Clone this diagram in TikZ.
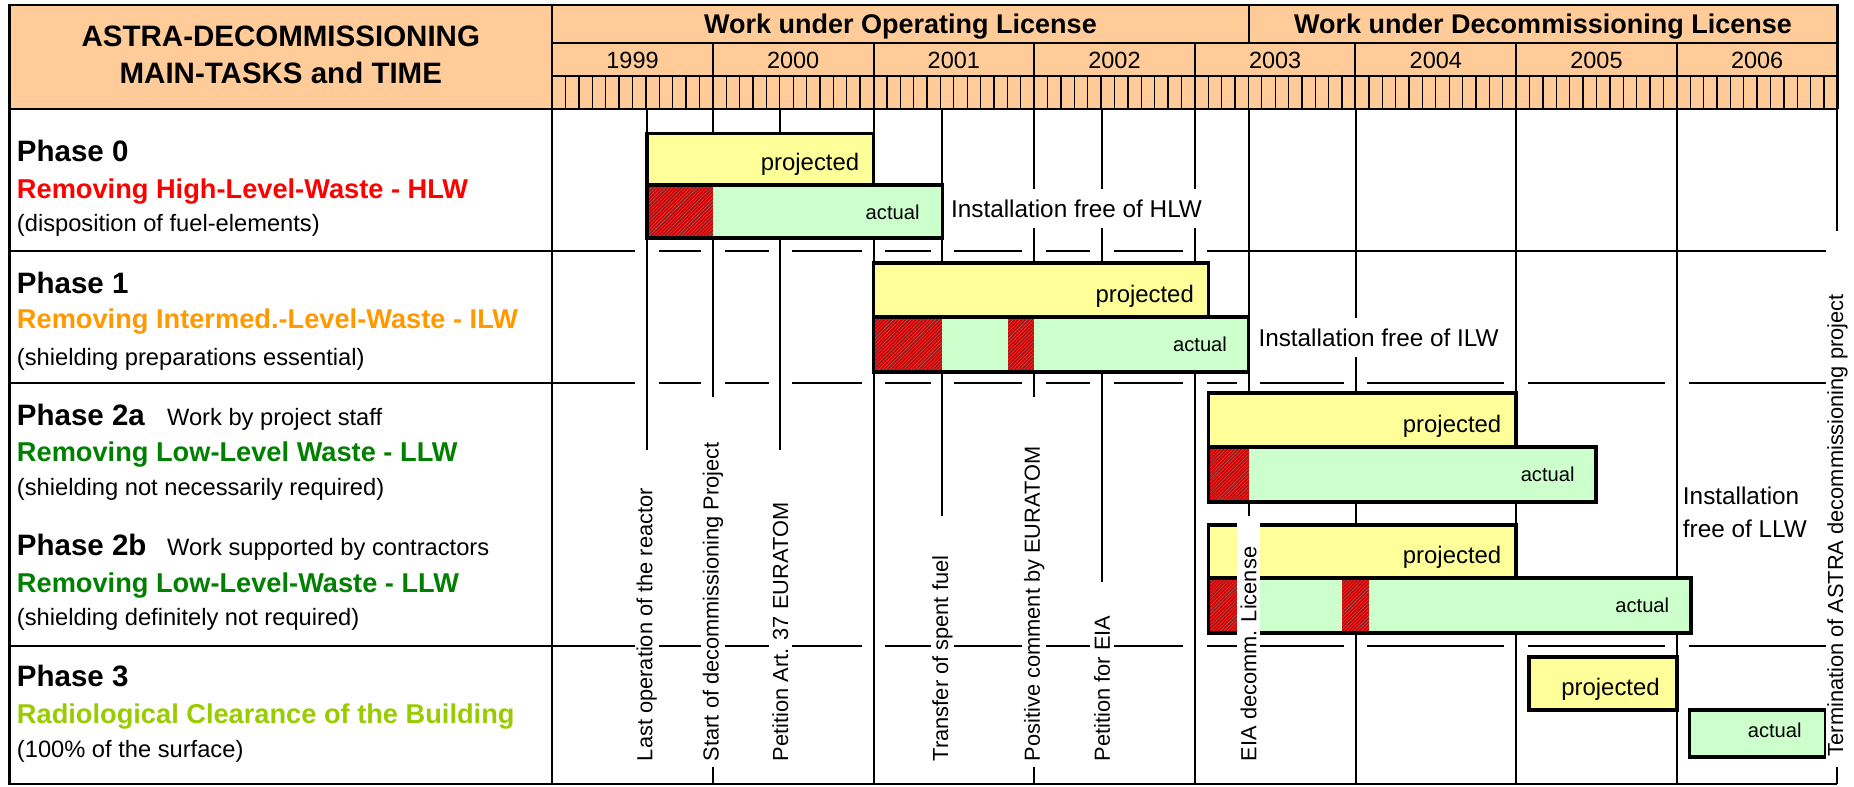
\documentclass[tikz,border=0pt]{standalone}
\usepackage{fontspec}
\setmainfont{Liberation Sans}
\usetikzlibrary{patterns.meta}
\definecolor{peach}{HTML}{FFCC99}
\definecolor{projyellow}{HTML}{FFFF99}
\definecolor{actgreen}{HTML}{CCFFCC}
\definecolor{delayred}{HTML}{E00000}
\definecolor{hlwred}{HTML}{FF0000}
\definecolor{ilworange}{HTML}{FF9900}
\definecolor{llwgreen}{HTML}{008000}
\definecolor{clrgreen}{HTML}{99CC00}
\def\fsz#1{\fontsize{#1pt}{#1pt}\selectfont}

\tikzset{
  frame/.style={line width=0.4mm},
  grid/.style={line width=0.34mm},
  gridcut/.style={grid, preaction={draw=white, line width=4mm}},
  tick/.style={line width=0.22mm},
  projbar/.style={draw, line width=0.6mm, fill=projyellow},
  actbar/.style={draw, line width=0.6mm, fill=actgreen},
  delay/.style={fill=delayred, postaction={pattern={Lines[angle=45,distance=1.2pt,line width=0.2pt]}, pattern color=black!55}},
  projlbl/.style={anchor=base east, inner sep=0pt, font=\fsz{11.5}},
  actlbl/.style={anchor=base east, inner sep=0pt, font=\fsz{9.7}},
  evtxt/.style={rotate=90, anchor=west, inner sep=0pt, font=\fsz{10.5}},
  mask/.style={fill=white},
  freelbl/.style={anchor=base west, fill=white, inner xsep=0.4mm, inner ysep=1.8mm, font=\fsz{11.7}},
  title/.style={anchor=base, inner sep=0pt, font=\fsz{14.2}\bfseries},
  hdr/.style={anchor=base, inner sep=0pt, font=\fsz{13}\bfseries},
  yearlbl/.style={anchor=base, inner sep=0pt, font=\fsz{11.3}},
  phase/.style={anchor=base west, inner sep=0pt, font=\fsz{14.2}\bfseries},
  task/.style={anchor=base west, inner sep=0pt, font=\fsz{13.1}\bfseries},
  note/.style={anchor=base west, inner sep=0pt, font=\fsz{11.4}}
}

\begin{document}
\begin{tikzpicture}[x=0.2mm, y=-0.2mm]
	%%%%% START %%%%%
	\useasboundingbox (0,0) rectangle (1568,665);
	
	% header
	\fill[peach] (8,4) rectangle (1554,92);
	\draw[tick] \foreach \m in {1,...,95} {({467+\m*135.875/12},64) -- ++(0,28)};
	\foreach \k in {1,...,7} \draw[grid] ({467+\k*135.875},36) -- ++(0,56);
	\draw[grid] (467,36) -- (1554,36);
	\draw[grid] (467,64) -- (1554,64);
	\draw[grid] (1056,4) -- (1056,36);
	\foreach \yr [count=\k from 0] in {1999,...,2006}
		\node[yearlbl] (y\yr) at ({467+(\k+0.5)*135.875},58) {\yr};
	\node[hdr] (oplic) at (761.5,28) {Work under Operating License};
	\node[hdr] (declic) at (1305,28) {Work under Decommissioning License};
	\node[title] (title1) at (237.5,39) {ASTRA-DECOMMISSIONING};
	\node[title] (title2) at (237.5,71) {MAIN-TASKS and TIME};
	
	% grid of the chart
	\foreach \y in {212,324,546} \draw[grid] (467,\y) -- (1554,\y);
	\foreach \x in {547,602.9,660,738.75,797,874.6,932,1010.5,1056,1146.4,1282.25,1418.1,1554}
		\draw[gridcut] (\x,92) -- (\x,663);
	\draw[grid] (1022,212) -- (1544,212);
	
	\node[freelbl] (hlwfree) at (802,184) {Installation free of HLW};
	\node[freelbl] (ilwfree) at (1062,293) {Installation free of ILW};
	\node[anchor=base west, inner sep=0pt, font=\fsz{11.7}] (llwfree1) at (1423,427) {Installation};
	\node[anchor=base west, inner sep=0pt, font=\fsz{11.7}] (llwfree2) at (1423,455) {free of LLW};
	
	% phase 0
	\draw[projbar] (547,113) rectangle (738.75,156.5);
	\node[projlbl] (p0proj) at (727,144.5) {projected};
	\fill[actgreen] (547,156.5) rectangle (797,201.5);
	\fill[delay] (547,156.5) rectangle (602.9,201.5);
	\draw[line width=0.6mm] (547,156.5) rectangle (797,201.5);
	\node[actlbl] (p0act) at (778,186) {actual};
	
	% phase 1
	\draw[projbar] (738.75,222.5) rectangle (1022,268);
	\node[projlbl] (p1proj) at (1010,255.5) {projected};
	\fill[actgreen] (738.75,268) rectangle (1056,314.5);
	\fill[delay] (738.75,268) rectangle (797,314.5);
	\fill[delay] (852.5,268) rectangle (874.6,314.5);
	\draw[line width=0.6mm] (738.75,268) rectangle (1056,314.5);
	\node[actlbl] (p1act) at (1038,297) {actual};
	
	% phase 2a
	\draw[projbar] (1022,332.5) rectangle (1282.25,378);
	\node[projlbl] (p2aproj) at (1270,365.5) {projected};
	\fill[actgreen] (1022,378) rectangle (1350,424.5);
	\fill[delay] (1022,378) rectangle (1056,424.5);
	\draw[line width=0.6mm] (1022,378) rectangle (1350,424.5);
	\node[actlbl] (p2aact) at (1332,407) {actual};
	
	% phase 2b
	\draw[projbar] (1022,444) rectangle (1282.25,489);
	\node[projlbl] (p2bproj) at (1270,476.5) {projected};
	\fill[actgreen] (1022,489) rectangle (1430,535.5);
	\fill[delay] (1022,489) rectangle (1056,535.5);
	\fill[delay] (1135,489) rectangle (1158,535.5);
	\draw[line width=0.6mm] (1022,489) rectangle (1430,535.5);
	\node[actlbl] (p2bact) at (1412,518) {actual};
	
	% phase 3
	\draw[projbar] (1293,555.5) rectangle (1418.1,600.5);
	\node[projlbl] (p3proj) at (1404,588) {projected};
	\draw[actbar] (1429,600.5) rectangle (1544,640);
	\node[actlbl] (p3act) at (1524,624) {actual};
	
	% events
	\fill[mask] (537,381) rectangle (557,663);
	\fill[mask] (592.9,336) rectangle (612.9,649);
	\fill[mask] (650,381) rectangle (670,663);
	\fill[mask] (787,436) rectangle (807,663);
	\fill[mask] (864.6,336) rectangle (884.6,649);
	\fill[mask] (922,492) rectangle (942,663);
	\fill[mask] (1046,436) rectangle (1066,663);
	\fill[mask] (1544,195) rectangle (1564,649);
	\node[evtxt] (ev1) at (547,644) {Last operation of the reactor};
	\node[evtxt] (ev2) at (602.9,644) {Start of decommissioning Project};
	\node[evtxt] (ev3) at (660,644) {Petition Art. 37 EURATOM};
	\node[evtxt] (ev4) at (797,644) {Transfer of spent fuel};
	\node[evtxt] (ev5) at (874.6,644) {Positive comment by EURATOM};
	\node[evtxt] (ev6) at (932,644) {Petition for EIA};
	\node[evtxt] (ev7) at (1056,644) {EIA decomm. License};
	\node[evtxt] (ev8) at (1554,640) {Termination of ASTRA decommissioning project};
	
	% frame and task column
	\draw[frame] (1554,92) -- (1554,4) -- (8,4) -- (8,663) -- (1554,663);
	\draw[frame] (8,92) -- (1554,92);
	\draw[frame] (467,4) -- (467,663);
	\foreach \y in {212,324,546} \draw[grid] (8,\y) -- (467,\y);
	
	\node[phase] (ph0) at (14,137) {Phase 0};
	\node[task, text=hlwred] (t0) at (14,168) {Removing High-Level-Waste - HLW};
	\node[note] (n0) at (14,196) {(disposition of fuel-elements)};
	
	\node[phase] (ph1) at (14,248) {Phase 1};
	\node[task, text=ilworange] (t1) at (14,278) {Removing Intermed.-Level-Waste - ILW};
	\node[note] (n1) at (14,309) {(shielding preparations essential)};
	
	\node[phase] (ph2a) at (14,360) {Phase 2a};
	\node[note] (w2a) at (141,360) {Work by project staff};
	\node[task, text=llwgreen] (t2a) at (14,390) {Removing Low-Level Waste - LLW};
	\node[note] (n2a) at (14,419) {(shielding not necessarily required)};
	
	\node[phase] (ph2b) at (14,470) {Phase 2b};
	\node[note] (w2b) at (141,470) {Work supported by contractors};
	\node[task, text=llwgreen] (t2b) at (14,501) {Removing Low-Level-Waste - LLW};
	\node[note] (n2b) at (14,529) {(shielding definitely not required)};
	
	\node[phase] (ph3) at (14,581) {Phase 3};
	\node[task, text=clrgreen] (t3) at (14,612) {Radiological Clearance of the Building};
	\node[note] (n3) at (14,641) {(100\% of the surface)};
	
	%%%%% END %%%%%
\end{tikzpicture}
\end{document}
